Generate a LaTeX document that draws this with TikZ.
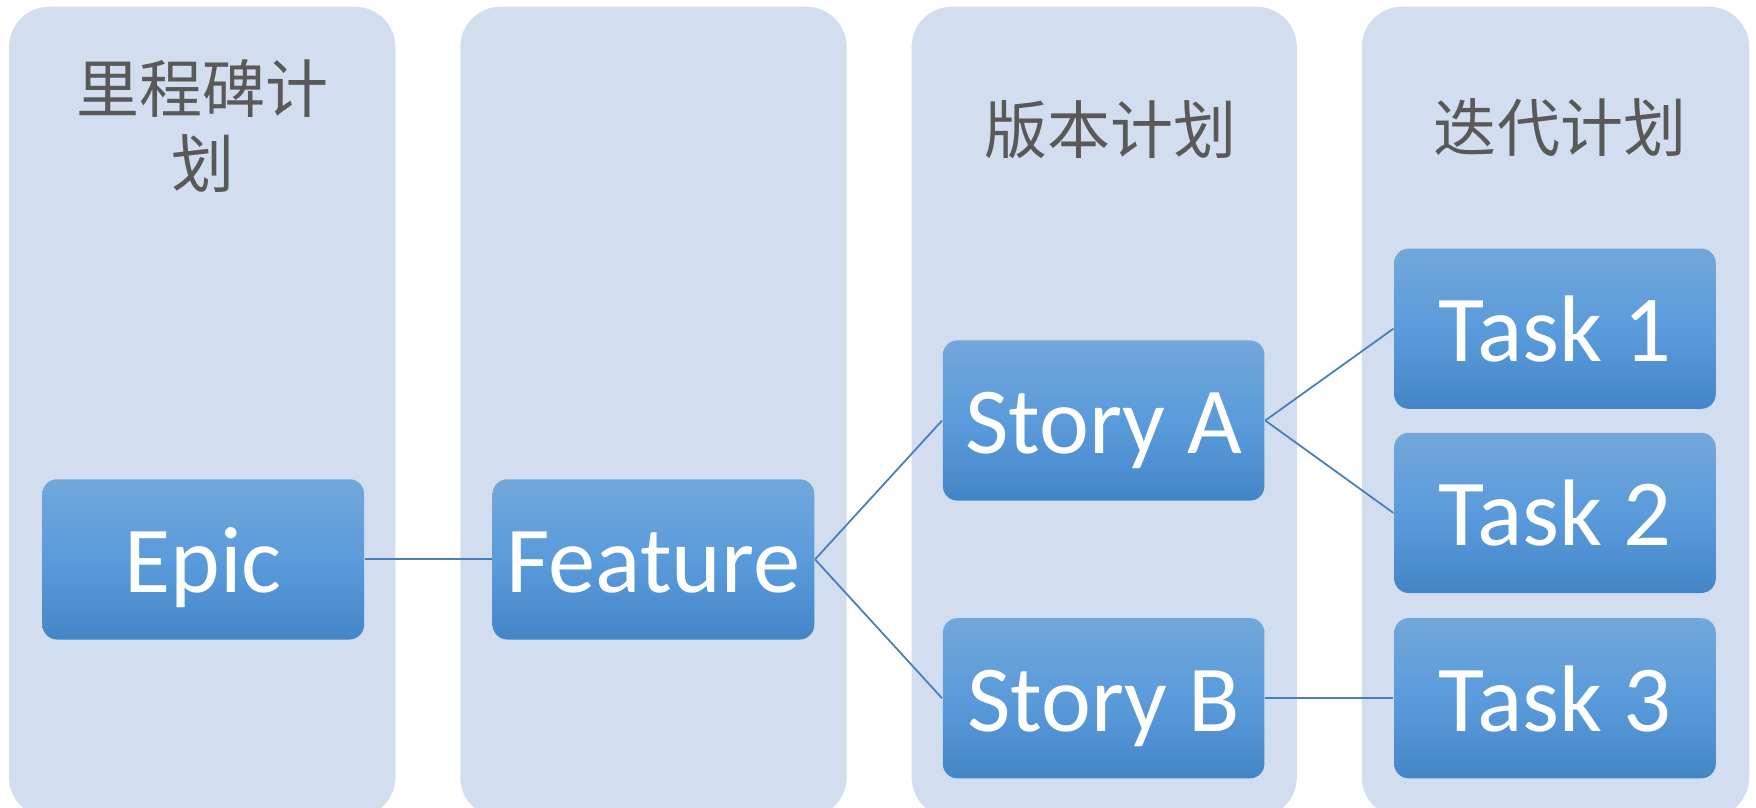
\documentclass[tikz,border=0pt]{standalone}
\usepackage{fontspec}
\setmainfont{Carlito}
\newfontfamily\cjkfont{Noto Sans CJK SC}
\definecolor{colfill}{HTML}{D2DEEF}
\definecolor{boxtop}{HTML}{72A7DB}
\definecolor{boxmid}{HTML}{5A9BDB}
\definecolor{boxbot}{HTML}{4386C8}
\definecolor{linkc}{HTML}{4A7EBB}
\definecolor{headc}{HTML}{595959}
\begin{document}
\begin{tikzpicture}[x=0.01cm,y=-0.01cm,
  lane/.style={fill=colfill, draw=none, rounded corners=0.36cm},
  item/.style={rectangle, rounded corners=0.13cm, minimum width=2.87cm, minimum height=1.43cm,
    top color=boxtop, bottom color=boxbot, middle color=boxmid, draw=none,
    text=white, font=\fontsize{24}{28}\selectfont, inner sep=0pt,
    text height=0.59cm, text depth=0pt},
  head/.style={text=headc, font=\cjkfont\fontsize{16}{19}\selectfont, align=center, inner sep=0pt},
  link/.style={draw=linkc, line width=0.45pt}]
\path[use as bounding box] (0,0) rectangle (1568,721.5);
\clip (0,0) rectangle (1568,721.5);
% lanes
\fill[lane] (8,6) rectangle (353,730);
\fill[lane] (411,6) rectangle (756,730);
\fill[lane] (814,6) rectangle (1158,730);
\fill[lane] (1216,6) rectangle (1562,730);
% headings
\node[head] (h1) at (181,112.5) {里程碑计\\划};
\node[head] (h3) at (992,116) {版本计划};
\node[head] (h4) at (1393,114) {迭代计划};
% items
\node[item] (epic) at (181.5,499.5) {Epic};
\node[item] (feature) at (583.5,499.5) {Feature};
\node[item] (sa) at (985.5,375.5) {Story A};
\node[item] (sb) at (985.5,623.5) {Story B};
\node[item] (t1) at (1388.5,293.5) {Task 1};
\node[item] (t2) at (1388.5,458) {Task 2};
\node[item] (t3) at (1388.5,623.5) {Task 3};
% links
\draw[link] (epic.east) -- (feature.west);
\draw[link] (feature.east) -- (sa.west);
\draw[link] (feature.east) -- (sb.west);
\draw[link] (sa.east) -- (t1.west);
\draw[link] (sa.east) -- (t2.west);
\draw[link] (sb.east) -- (t3.west);
\end{tikzpicture}
\end{document}
